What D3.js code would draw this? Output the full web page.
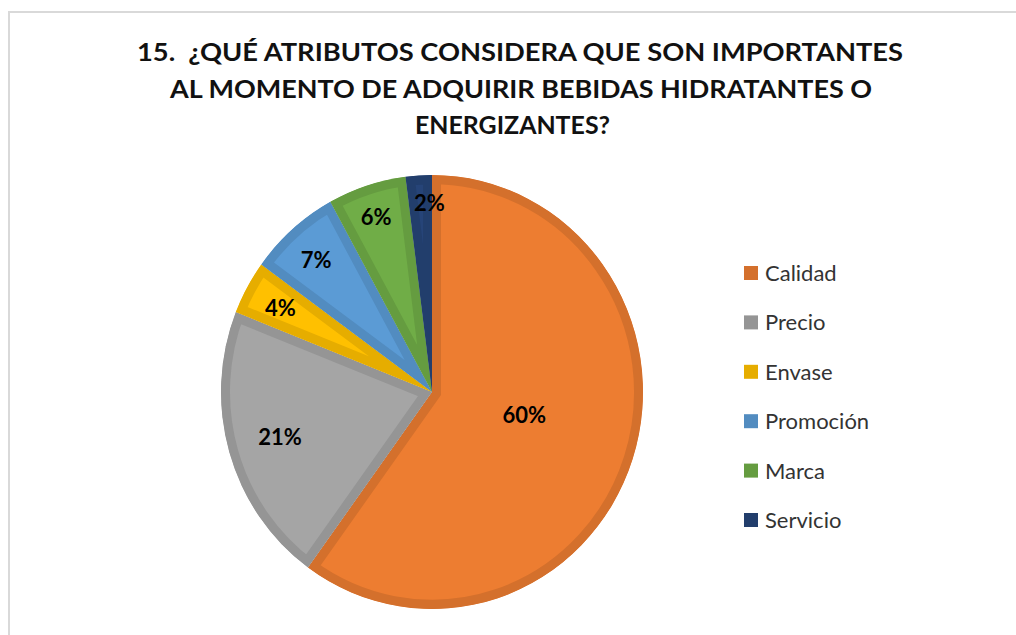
<!DOCTYPE html>
<html><head><meta charset="utf-8">
<script src="https://cdn.jsdelivr.net/npm/d3@7"></script>
<style>html,body{margin:0;padding:0;background:#fff;}svg{display:block;}</style>
</head><body>
<svg id="chart" width="1016" height="635"></svg>
<script>
const titleLines = ["15.  ¿QUÉ ATRIBUTOS CONSIDERA QUE SON IMPORTANTES", "AL MOMENTO DE ADQUIRIR BEBIDAS HIDRATANTES O", "ENERGIZANTES?"];
const categories = ["Calidad", "Precio", "Envase", "Promoción", "Marca", "Servicio"];
const values = [60, 21, 4, 7, 6, 2];
const labels = ["60%", "21%", "4%", "7%", "6%", "2%"];
const fillColors = ["#ED7D31", "#A5A5A5", "#FFC000", "#5B9BD5", "#70AD47", "#264478"];
const edgeColors = ["#D4702C", "#959595", "#E6AD00", "#528CC0", "#659C40", "#223E6C"];
const labelRadius = [0.46, 0.75, 0.82, 0.83, 0.855, 0.88];
const labelNudgeX = [0, 0, 0, 0, 0, 9];
const labelNudgeY = [-8, 0, 2, 3, 2, 2];

const svg = d3.select("#chart");
// frame
svg.append("path").attr("d", "M9,640 L9,12 L1020,12").attr("fill", "none").attr("stroke", "#D9D9D9").attr("stroke-width", 2);

// title
const titleW = [766, 702, 195];
const titleX = [520, 521, 512.5];
const titleY = [61, 98, 134];
svg.append("g").selectAll("text").data(titleLines).join("text")
  .attr("x", (d, i) => titleX[i]).attr("y", (d, i) => titleY[i])
  .attr("text-anchor", "middle")
  .style("white-space", "pre")
  .attr("font-family", "Lato, 'Open Sans', sans-serif").attr("font-weight", "bold")
  .attr("font-size", 24).attr("fill", "#111")
  .attr("textLength", (d, i) => titleW[i]).attr("lengthAdjust", "spacingAndGlyphs")
  .text(d => d);

// pie
const cx = 432, cy = 392, r = 211, sy = 217 / 211;
const pie = d3.pie().sort(null).value(d => d);
const arcs = pie(values);
const arc = d3.arc().innerRadius(0).outerRadius(r);
const g = svg.append("g").attr("transform", `translate(${cx},${cy}) scale(1,${sy})`);
const defs = svg.append("defs");
arcs.forEach((a, i) => {
  defs.append("clipPath").attr("id", "clip" + i).append("path").attr("d", arc(a));
});
g.selectAll("path.slice").data(arcs).join("path")
  .attr("class", "slice")
  .attr("d", arc)
  .attr("fill", (d, i) => fillColors[i])
  .attr("stroke", (d, i) => edgeColors[i])
  .attr("stroke-width", 18)
  .attr("stroke-linejoin", "miter")
  .attr("clip-path", (d, i) => `url(#clip${i})`);

// labels
svg.append("g").selectAll("text").data(arcs).join("text")
  .each(function (d, i) {
    const la = d3.arc().innerRadius(0).outerRadius(2 * r * labelRadius[i]);
    const c = la.centroid(d);
    d3.select(this).attr("x", cx + c[0] + labelNudgeX[i]).attr("y", cy + c[1] * sy + labelNudgeY[i]);
  })
  .attr("text-anchor", "middle").attr("dy", "0.36em")
  .attr("font-family", "Lato, 'Open Sans', sans-serif").attr("font-weight", "bold")
  .attr("font-size", 22).attr("fill", "#000")
  .text((d, i) => labels[i]);

// legend
const legendY = d3.scalePoint().domain(categories).range([273, 520]);
const lg = svg.append("g");
lg.selectAll("rect").data(categories).join("rect")
  .attr("x", 744).attr("y", d => legendY(d) - 7).attr("width", 14).attr("height", 14)
  .attr("fill", (d, i) => edgeColors[i]);
lg.selectAll("text").data(categories).join("text")
  .attr("x", 765).attr("y", d => legendY(d)).attr("dy", "0.36em")
  .attr("font-family", "Lato, 'Open Sans', sans-serif").attr("font-size", 22).attr("fill", "#333")
  .text(d => d);
</script>
</body></html>
